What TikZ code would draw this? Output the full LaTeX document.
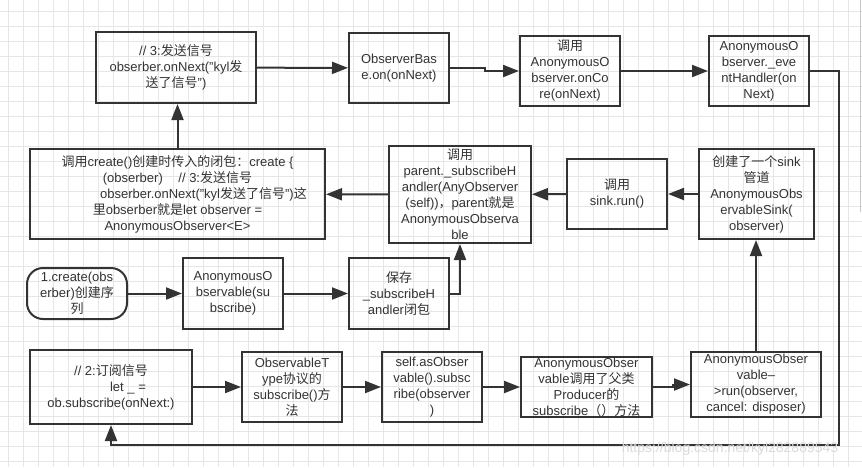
\documentclass[tikz,border=0pt]{standalone}
\usepackage{fontspec}
\setmainfont{Liberation Sans}
\newfontfamily\cjkf{Noto Sans CJK SC}
\usetikzlibrary{arrows.meta}
\definecolor{ink}{HTML}{333333}
\definecolor{gridc}{HTML}{E6E6E6}
\definecolor{wmark}{HTML}{DADADA}
\newcommand\zhs[1]{{\cjkf #1}}
\begin{document}
\begin{tikzpicture}[x=1pt,y=-1pt,
  box/.style={draw=ink, line width=2pt, inner sep=0pt, align=center, text=ink, font=\fontsize{13}{16}\selectfont},
  conn/.style={draw=ink, line width=2pt, -{Triangle[length=16pt 0,width=12pt 0]}},
  gridline/.style={draw=gridc, line width=0.8pt}]
\useasboundingbox (0,0) rectangle (862,467);
\fill[white] (0,0) rectangle (862,467);
\foreach \i in {0,...,57} \draw[gridline] (8.3+15*\i,0) -- (8.3+15*\i,467);
\foreach \j in {0,...,30} \draw[gridline] (0,11+15*\j) -- (862,11+15*\j);
\draw[draw=black!22, line width=0.8pt] (860.5,0) -- (860.5,212);

% top row
\node[box, minimum width=160pt, minimum height=71pt] (b1) at (176,67.5)
  {// 3:\zhs{发送信号}\\obserber.onNext("kyl\zhs{发}\\\zhs{送了信号}")};
\node[box, minimum width=100pt, minimum height=70pt] (b2) at (399,68)
  {ObserverBas\\e.on(onNext)};
\node[box, minimum width=100pt, minimum height=70pt] (b3) at (570,71)
  {\zhs{调用}\\AnonymousO\\bserver.onCo\\re(onNext)};
\node[box, minimum width=100pt, minimum height=70pt] (b4) at (759,71)
  {AnonymousO\\bserver.\_eve\\ntHandler(on\\Next)};

% second row
\node[box, minimum width=295pt, minimum height=90pt] (b5) at (177.5,194)
  {\zhs{调用}create()\zhs{创建时传入的闭包：}create \{\\(obserber)\hspace{1.2em}// 3:\zhs{发送信号}\\\hspace*{52pt}obserber.onNext("kyl\zhs{发送了信号}")\zhs{这}\\\zhs{里}obserber\zhs{就是}let observer =\\AnonymousObserver<E>};
\node[box, minimum width=142pt, minimum height=97pt] (b6) at (460,194.5)
  {\zhs{调用}\\parent.\_subscribeH\\andler(AnyObserver\\(self))\zhs{，}parent\zhs{就是}\\AnonymousObserva\\ble};
\node[box, minimum width=100pt, minimum height=70pt] (b7) at (617,194)
  {\zhs{调用}\\sink.run()};
\node[box, minimum width=115pt, minimum height=90pt] (b8) at (756.5,194)
  {\zhs{创建了一个}sink\\\zhs{管道}\\AnonymousObs\\ervableSink(\\observer)};

% third row
\node[box, rounded corners=16pt, minimum width=100pt, minimum height=51pt] (b9) at (77,293.5)
  {1.create(obs\\erber)\zhs{创建序}\\\zhs{列}};
\node[box, minimum width=100pt, minimum height=71pt] (b10) at (233,293.5)
  {AnonymousO\\bservable(su\\bscribe)};
\node[box, minimum width=100pt, minimum height=71pt] (b11) at (399,293.5)
  {\zhs{保存}\\\_subscribeH\\andler\zhs{闭包}};

% bottom row
\node[box, minimum width=162pt, minimum height=74pt] (b12) at (111,387)
  {// 2:\zhs{订阅信号}\\\hspace*{34pt}let \_ =\\ob.subscribe(onNext:)};
\node[box, minimum width=100pt, minimum height=70pt] (b13) at (292,387)
  {ObservableT\\ype\zhs{协议的}\\subscribe()\zhs{方}\\\zhs{法}};
\node[box, minimum width=100pt, minimum height=70pt] (b14) at (432,387)
  {self.asObser\\vable().subsc\\ribe(observer\\)};
\node[box, minimum width=131pt, minimum height=60pt] (b15) at (586.5,387)
  {AnonymousObser\\vable\zhs{调用了父类}\\Producer\zhs{的}\\subscribe\zhs{（）方法}};
\node[box, minimum width=130pt, minimum height=65pt] (b16) at (756,384.5)
  {AnonymousObser\\vable--\\>run(observer,\\cancel: disposer)};

% connectors
\draw[conn] (b1) -- (b2);
\draw[conn] (b2.east) -- ++(35,0) |- (b3.west);
\draw[conn] (b3) -- (b4);
\coordinate (r1) at (839,71);
\coordinate (r2) at (839,445);
\draw[conn] (b4.east) -- (r1) -- (r2) -| (b12.south);
\draw[conn] (b5.north) -- (b5.north |- b1.south);
\draw[conn] (b6) -- (b5);
\draw[conn] (b7) -- (b6);
\draw[conn] (b8) -- (b7);
\draw[conn] (b9) -- (b10);
\draw[conn] (b10) -- (b11);
\draw[conn] (b11.east) -| (b6.south);
\draw[conn] (b12) -- (b13);
\draw[conn] (b13) -- (b14);
\draw[conn] (b14.east) -- (b15.west);
\draw[conn] (b15.east) -- ++(20,0) |- (b16.west);
\draw[conn] (b16.north) -- (b16.north |- b8.south);

\node[text=wmark, font=\fontsize{14}{16}\selectfont, inner sep=0pt] (wm) at (730,449) {https://blog.csdn.net/kyl282889543};
\end{tikzpicture}
\end{document}
